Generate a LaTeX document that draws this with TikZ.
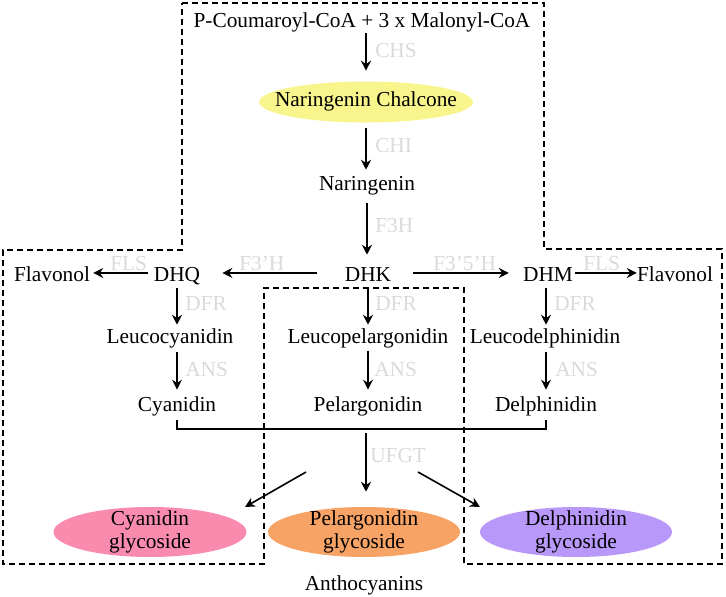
\documentclass[tikz,border=0pt]{standalone}
\usepackage{fontspec}
\setmainfont{Liberation Serif}
\usetikzlibrary{arrows.meta,shapes.geometric}
\definecolor{labgray}{HTML}{DADADA}
\definecolor{ncyellow}{HTML}{F7F58C}
\definecolor{cypink}{HTML}{F98BAE}
\definecolor{pgorange}{HTML}{F8A366}
\definecolor{dppurple}{HTML}{B898F8}
\begin{document}
\begin{tikzpicture}[x=0.75pt,y=-0.75pt,
 txt/.style={font=\fontsize{16}{18}\selectfont, inner sep=0pt, text height=11.2pt, text depth=3.52pt, anchor=base},
 lab/.style={txt, text=labgray, anchor=base west},
 arr/.style={line width=1.2pt, -{Stealth[length=7.5pt,width=7.5pt,inset=2.5pt]}},
 conn/.style={line width=1.2pt},
 dbox/.style={line width=1.1pt, dash pattern=on 4.5pt off 3pt},
 blob/.style={ellipse, draw=none, inner sep=0pt},
 gtxt/.style={font=\fontsize{16}{17.25}\selectfont, align=center, inner sep=0pt}]

\useasboundingbox (0,0) rectangle (726,597);

% dashed outline
\draw[dbox] (182,3) -- (544,3) -- (544,249) -- (722,249) -- (722,564) -- (464,564) -- (464,288) -- (264,288) -- (264,564) -- (3,564) -- (3,250) -- (182,250) -- cycle;

% main nodes
\node[txt] (top) at (362,27) {P-Coumaroyl-CoA + 3 x Malonyl-CoA};
\node[blob, fill=ncyellow, minimum width=160.5pt, minimum height=30.75pt] (nc) at (366,102) {};
\node[txt] (nct) at (366,106) {Naringenin Chalcone};
\node[txt] (nar) at (367,190) {Naringenin};
\node[txt] (dhk) at (368,281) {DHK};
\node[txt] (dhq) at (177,281) {DHQ};
\node[txt] (dhm) at (548,281) {DHM};
\node[txt] (flL) at (52,281) {Flavonol};
\node[txt] (flR) at (675,281) {Flavonol};
\node[txt] (lcy) at (170,343) {Leucocyanidin};
\node[txt] (lpg) at (368,343) {Leucopelargonidin};
\node[txt] (ldp) at (545,343) {Leucodelphinidin};
\node[txt] (cya) at (177,411) {Cyanidin};
\node[txt] (pel) at (368,411) {Pelargonidin};
\node[txt] (del) at (546,411) {Delphinidin};

% glycosides
\node[blob, fill=cypink, minimum width=144.75pt, minimum height=37.5pt] (cyg) at (150,532) {};
\node[gtxt] (cygt) at (cyg) {Cyanidin\\glycoside};
\node[blob, fill=pgorange, minimum width=144pt, minimum height=37.5pt] (pelg) at (364,532) {};
\node[gtxt] (pelgt) at (pelg) {Pelargonidin\\glycoside};
\node[blob, fill=dppurple, minimum width=144pt, minimum height=37.5pt] (delg) at (576,532) {};
\node[gtxt] (delgt) at (delg) {Delphinidin\\glycoside};
\node[txt] (antho) at (364,590) {Anthocyanins};

% enzyme labels
\node[lab] (lchs) at (375,57) {CHS};
\node[lab] (lchi) at (375,152) {CHI};
\node[lab] (lf3h) at (375,232) {F3H};
\node[lab] (lf3ph) at (239,270) {F3’H};
\node[lab] (lflsL) at (110,270) {FLS};
\node[lab] (lf35h) at (433,270) {F3’5’H};
\node[lab] (lflsR) at (583,270) {FLS};
\node[lab] (ldfrL) at (185,310) {DFR};
\node[lab] (ldfrM) at (375,310) {DFR};
\node[lab] (ldfrR) at (554,310) {DFR};
\node[lab] (lansL) at (185,376) {ANS};
\node[lab] (lansM) at (374,376) {ANS};
\node[lab] (lansR) at (555,376) {ANS};
\node[lab] (lufgt) at (370,462) {UFGT};

% arrows
\draw[arr, shorten <=1pt, shorten >=7.9pt] (top.south -| nc.north) -- (nc.north);
\draw[arr, shorten <=4.1pt, shorten >=3.8pt] (nc.south) -- (nc.south |- nar.north);
\draw[arr, shorten <=6.2pt, shorten >=8.3pt] (nar.south) -- (nar.south |- dhk.north);

\draw[arr, shorten <=21pt, shorten >=16.5pt] ([yshift=2.2pt]dhk.west) -- ([yshift=2.2pt]dhq.east);
\draw[arr, shorten <=4.5pt, shorten >=2.25pt] ([yshift=2.2pt]dhq.west) -- ([yshift=2.2pt]flL.east);
\draw[arr, shorten <=16.5pt, shorten >=10.5pt] ([yshift=2.2pt]dhk.east) -- ([yshift=2.2pt]dhm.west);
\draw[arr, shorten <=1.5pt, shorten >=0pt] ([yshift=2.2pt]dhm.east) -- ([yshift=2.2pt]flR.west);

\draw[arr, shorten <=1.7pt, shorten >=2.3pt] (dhq.south) -- (dhq.south |- lcy.north);
\draw[arr, shorten <=3pt, shorten >=4.6pt] (lcy.south -| cya.north) -- (cya.north);
\draw[arr, shorten <=1.7pt, shorten >=2.3pt] (dhk.south) -- (dhk.south |- lpg.north);
\draw[arr, shorten <=2pt, shorten >=4.6pt] (lpg.south -| pel.north) -- (pel.north);
\draw[arr, shorten <=1.7pt, shorten >=2.3pt] (dhm.south -| del.north) -- (ldp.north -| del.north);
\draw[arr, shorten <=3pt, shorten >=4.6pt] (ldp.south -| del.north) -- (del.north);

\coordinate (junc) at (366,429);
\draw[conn, shorten <=3.2pt, shorten >=3.2pt] (cya.south) |- (junc) -| (del.south);
\draw[arr, shorten <=3pt, shorten >=11.25pt] (junc) -- (junc |- pelg.north);
\coordinate (dl1) at (306,472);
\coordinate (dl2) at (245,507);
\coordinate (dr1) at (418,472);
\coordinate (dr2) at (480,507);
\draw[arr] (dl1) -- (dl2);
\draw[arr] (dr1) -- (dr2);
\end{tikzpicture}
\end{document}
